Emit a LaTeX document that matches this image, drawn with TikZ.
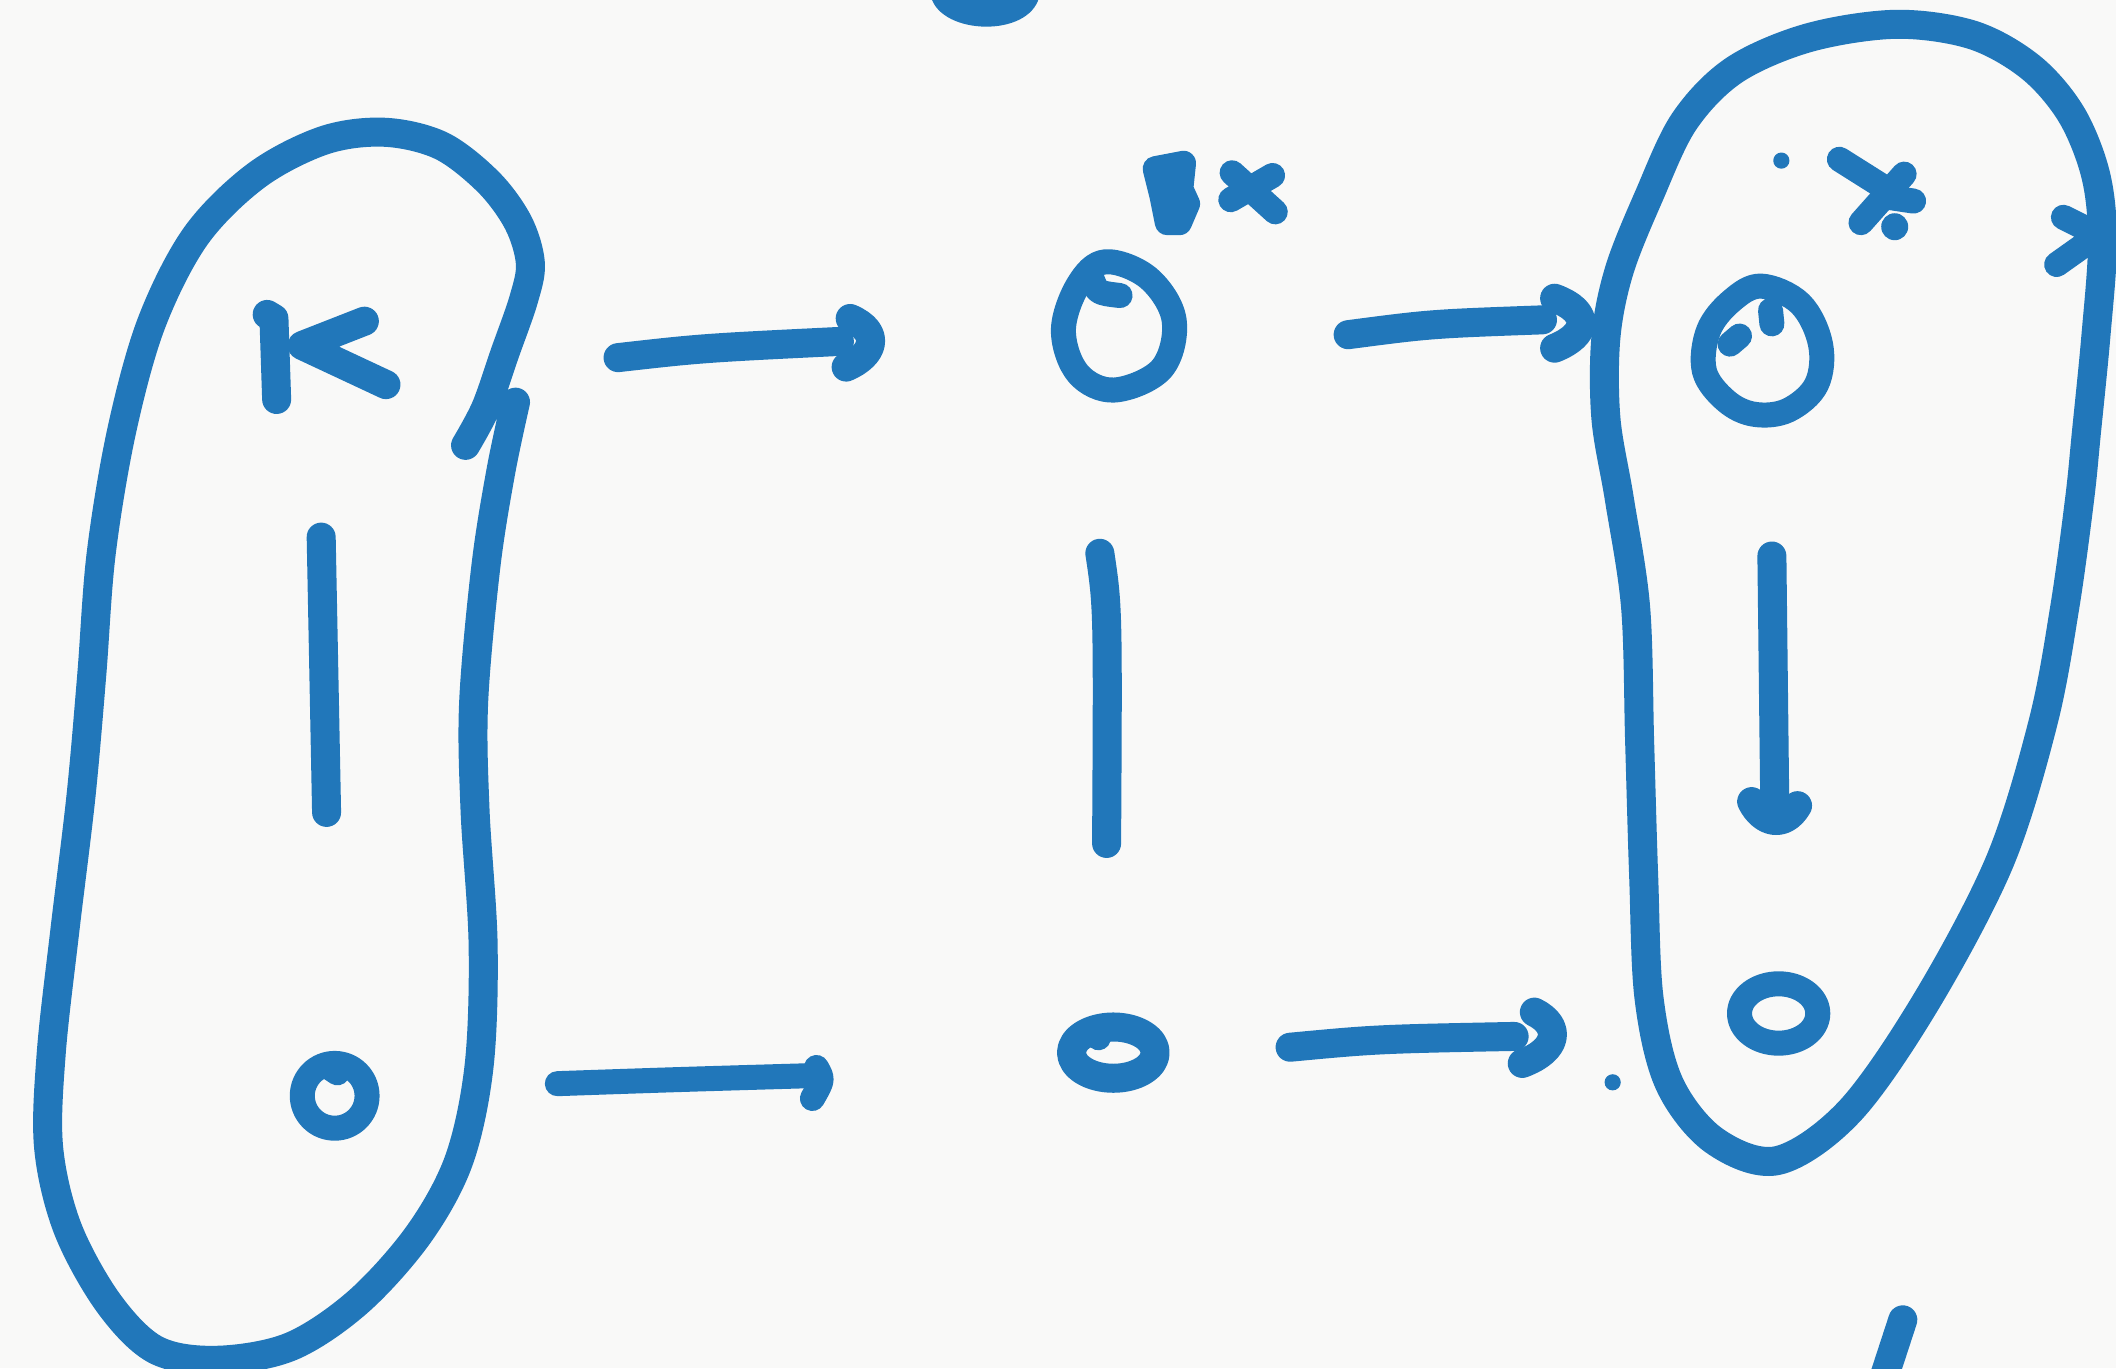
\documentclass[tikz,border=0pt]{standalone}
\definecolor{inkblue}{HTML}{2177BA}
\definecolor{paper}{HTML}{F9F9F8}
\tikzset{
  ink/.style={draw=inkblue, line width=0.29cm, line cap=round, line join=round},
  thinink/.style={draw=inkblue, line width=0.25cm, line cap=round, line join=round},
}
\begin{document}
\begin{tikzpicture}[x=0.013495cm, y=-0.013495cm]
\fill[paper] (0,0) rectangle (1568,1014);
\useasboundingbox (0,0) rectangle (1568,1014);
\begin{scope}
\clip (0,0) rectangle (1568,1014);
% top cut-off blob
\fill[inkblue] (690,-2) .. controls (698,26) and (762,28) .. (770,-2) -- cycle;
% bottom-right cut-off stroke
\draw[ink] (1410,978) -- (1393,1030);
\end{scope}

% ---------- left group ----------
\draw[ink] plot[smooth, tension=0.55] coordinates {
 (345,330) (360,302) (374,262) (388,222) (393,195) (384,165) (362,135) (327,108)
 (285,98) (240,104) (190,130) (145,175) (112,240) (90,320) (75,410) (68,500)
 (60,590) (48,690) (38,780) (36,850) (50,910) (80,965) (115,1000) (160,1008)
 (215,998) (265,965) (310,915) (340,860) (355,790) (358,700) (352,600) (351,520)
 (360,420) (371,350) (382,298)};
% K
\coordinate (kTop) at (203,236);
\coordinate (kBot) at (205,296);
\coordinate (kJoin) at (224,256);
\draw[ink] (198,233) -- (kTop) -- (kBot);
\draw[ink] (270,238) -- (kJoin) -- (286,285);
% left vertical bar
\coordinate (lvTop) at (238,398);
\coordinate (lvBot) at (242,602);
\draw[ink] (lvTop) -- (lvBot);
% left small circle
\coordinate (lc) at (248,812);
\draw[thinink] (lc) ellipse [x radius=24, y radius=24];
\draw[thinink] (244,791) -- (250,795);

% ---------- centre column ----------
\draw[thinink] plot[smooth cycle, tension=0.6] coordinates {
 (819,194) (851,206) (870,237) (861,273) (826,289) (799,277) (788,245) (799,211)};
\draw[thinink] (809,206) .. controls (813,217) .. (830,219);
% marks above
\filldraw[thinink, fill=inkblue] (856,125) -- (877,121) -- (875,140) -- (880,151)
  -- (874,165) -- (865,165) -- (861,145) -- cycle;
\draw[thinink] (913,128) -- (945,157);
\draw[thinink] (943,130) -- (912,148);
% centre vertical bar
\coordinate (cvTop) at (815,410);
\coordinate (cvBot) at (820,625);
\draw[ink] (cvTop) .. controls (821,450) .. (cvBot);
% centre bottom small o
\coordinate (cc) at (825,780);
\draw[ink] (cc) ellipse [x radius=31, y radius=19];
\draw[thinink] (816,762) -- (814,769);

% ---------- right group ----------
\draw[ink] plot[smooth cycle, tension=0.55] coordinates {
 (1405,18) (1462,26) (1505,50) (1535,85) (1553,130) (1558,180) (1553,250) (1546,321)
 (1541,370) (1530,450) (1514,535) (1482,638) (1428,741) (1371,823) (1317,860)
 (1270,845) (1237,803) (1222,740) (1218,650) (1215,550) (1212,450) (1200,370)
 (1190,310) (1190,250) (1200,200) (1222,145) (1248,90) (1285,52) (1340,28)};
% > mark on right side
\draw[thinink] (1529,161) -- (1555,174) -- (1524,196);
% top-right O
\draw[thinink] plot[smooth cycle, tension=0.6] coordinates {
 (1305,212) (1334,225) (1349,255) (1346,285) (1325,304) (1300,307) (1279,297)
 (1263,275) (1266,245) (1283,223)};
\draw[thinink] (1282,255) -- (1289,249);
\draw[thinink] (1312,230) -- (1313,240);
% dot and x mark
\fill[inkblue] (1320,119) circle [radius=6];
\draw[thinink] (1363,118) -- (1409,147);
\draw[thinink] (1411,129) -- (1379,165);
\draw[thinink] (1398,146) -- (1418,149);
\fill[inkblue] (1404,168) circle [radius=10];
% right vertical arrow
\coordinate (rvTop) at (1313,412);
\coordinate (rvBot) at (1315,600);
\draw[ink] (rvTop) -- (1315,585) -- (rvBot);
\draw[ink] (1298,594) .. controls (1306,610) and (1322,614) .. (1332,597);
% right bottom o
\coordinate (rc) at (1318,751);
\draw[thinink] (rc) ellipse [x radius=29, y radius=22];
% small dot
\fill[inkblue] (1195,802) circle [radius=6];

% ---------- horizontal arrows ----------
\draw[ink] (458,265) .. controls (520,258) .. (622,253);
\draw[ink] (630,236) .. controls (653,246) and (648,263) .. (627,272);
\draw[ink] (999,248) .. controls (1060,240) .. (1143,237);
\draw[ink] (1152,221) .. controls (1179,231) and (1177,248) .. (1152,258);
\draw[thinink] (413,803) .. controls (500,800) .. (603,797);
\draw[thinink] (605,791) .. controls (610,800) .. (602,814);
\draw[ink] (956,776) .. controls (1020,770) .. (1122,768);
\draw[ink] (1137,750) .. controls (1157,760) and (1155,778) .. (1128,788);
\end{tikzpicture}
\end{document}
